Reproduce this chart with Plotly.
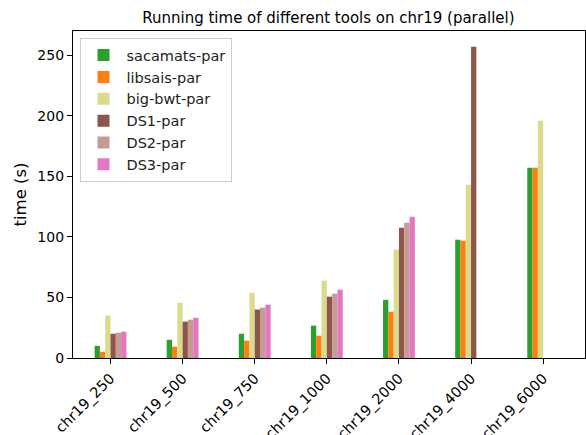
import plotly.graph_objects as go

categories = ["chr19_250", "chr19_500", "chr19_750", "chr19_1000", "chr19_2000", "chr19_4000", "chr19_6000"]
sacamats_par = [10, 15, 20, 26.7, 48, 97.6, 157]
libsais_par = [5.2, 9.3, 14.3, 18.4, 38.2, 96.8, 157]
bigbwt_par = [35, 45.6, 53.8, 63.8, 89.4, 143, 195.8]
ds1_par = [20, 30, 40, 50.6, 107.5, 256.9, None]
ds2_par = [20.9, 31.6, 41.5, 53, 111.6, None, None]
ds3_par = [21.7, 33.2, 44, 56.4, 116.6, None, None]

series = [
    ("sacamats-par", sacamats_par, "#2ca02c"),
    ("libsais-par", libsais_par, "#ff7f0e"),
    ("big-bwt-par", bigbwt_par, "#dbdb8d"),
    ("DS1-par", ds1_par, "#8c564b"),
    ("DS2-par", ds2_par, "#c49c94"),
    ("DS3-par", ds3_par, "#e377c2"),
]

fig = go.Figure()
for name, vals, color in series:
    fig.add_trace(go.Bar(
        x=categories, y=vals, name=name,
        marker=dict(color=color, line=dict(width=0)),
    ))

font_family = "DejaVu Sans"
fig.update_layout(
    width=586, height=435,
    margin=dict(l=72.5, r=1, t=31, b=77, autoexpand=False),
    paper_bgcolor="white", plot_bgcolor="white",
    barmode="group", bargap=0.559, bargroupgap=0,
    font=dict(family=font_family, color="black", size=14),
    title=dict(text="Running time of different tools on chr19 (parallel)",
               x=0.5604, xanchor="center", y=0.96, yanchor="middle",
               font=dict(size=15, family=font_family, color="black")),
    legend=dict(x=0.0127, y=0.978, xanchor="left", yanchor="top",
                bgcolor="rgba(255,255,255,0.8)", bordercolor="#cccccc", borderwidth=1,
                font=dict(size=14.5, family=font_family, color="#222222"),
                tracegroupgap=0, itemwidth=36),
    showlegend=True,
)
fig.update_xaxes(
    type="category", range=[-0.52, 6.58], automargin=False,
    showline=True, linecolor="black", linewidth=1.3, mirror=True,
    ticks="outside", ticklen=5, tickwidth=1.3, tickcolor="black",
    tickangle=-45, showgrid=False, tickfont=dict(size=14.5),
)
fig.update_yaxes(
    range=[0, 269.8], tickvals=[0, 50, 100, 150, 200, 250], automargin=False,
    showline=True, linecolor="black", linewidth=1.3, mirror=True,
    ticks="outside", ticklen=5, tickwidth=1.3, tickcolor="black",
    showgrid=False, zeroline=False, tickfont=dict(size=14),
    title=dict(text="time (s)", font=dict(size=16.5), standoff=6),
)

fig.write_html("out.html")
